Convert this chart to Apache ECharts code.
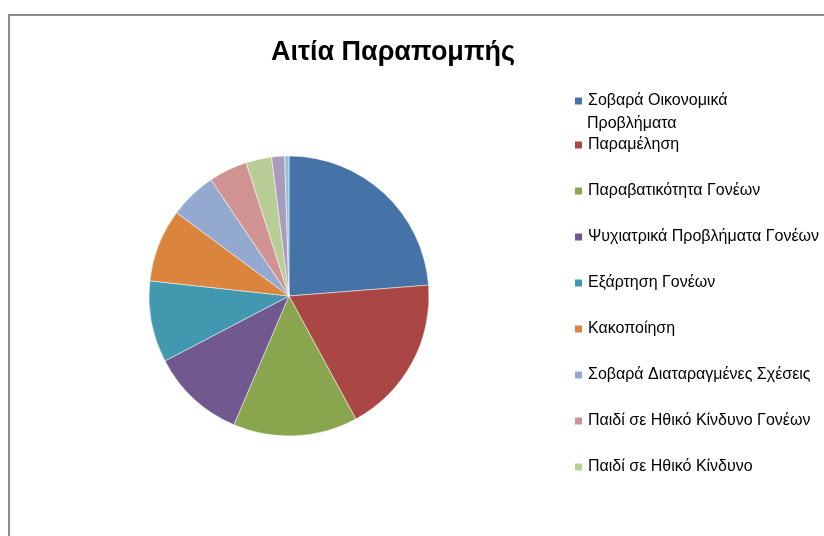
<!DOCTYPE html>
<html>
<head>
<meta charset="utf-8">
<script src="https://cdn.jsdelivr.net/npm/echarts@6/dist/echarts.min.js"></script>
<style>
  html, body { margin: 0; padding: 0; background: #fff; }
  #frame {
    position: absolute; left: 8px; top: 14px; width: 830px; height: 540px;
    border-left: 2px solid #8c8c8c; border-top: 2px solid #8c8c8c;
  }
  #chart { position: absolute; left: 0; top: 0; width: 824px; height: 536px; }
</style>
</head>
<body>
<div id="frame"></div>
<div id="chart"></div>
<script>
// αιτίες παραπομπής (τα δύο τελευταία δεν φαίνονται στο υπόμνημα)
const causes = [
    'Σοβαρά Οικονομικά Προβλήματα',
    'Παραμέληση',
    'Παραβατικότητα Γονέων',
    'Ψυχιατρικά Προβλήματα Γονέων',
    'Εξάρτηση Γονέων',
    'Κακοποίηση',
    'Σοβαρά Διαταραγμένες Σχέσεις',
    'Παιδί σε Ηθικό Κίνδυνο Γονέων',
    'Παιδί σε Ηθικό Κίνδυνο',
    'Σεξουαλική Κακοποίηση',
    'Άλλο'
];
const counts = [48, 37, 29, 22, 19, 17, 11, 9, 6, 3, 1];
const colors = ['#4572A7', '#AA4643', '#89A54E', '#71588F', '#4198AF', '#DB843D',
    '#93A9CF', '#D19392', '#B9CD96', '#A99BBD', '#91C3D5'];

const chart = echarts.init(document.getElementById('chart'));

const legendText = { fontFamily: 'Liberation Sans', fontSize: 16, color: '#000', lineHeight: 18 };

const option = {
    animation: false,
    color: colors,
    title: {
        text: 'Αιτία Παραπομπής',
        left: 393,
        top: 39,
        padding: 0,
        textAlign: 'center',
        textStyle: { fontFamily: 'Liberation Sans', fontSize: 27, fontWeight: 'bold', color: '#000' }
    },
    legend: [
        {
            orient: 'vertical',
            left: 573,
            top: 92,
            padding: 0,
            icon: 'rect',
            itemWidth: 9,
            itemHeight: 9,
            data: [causes[0]],
            formatter: function () { return 'Σοβαρά Οικονομικά'; },
            textStyle: legendText
        },
        {
            orient: 'vertical',
            left: 573,
            top: 136,
            padding: 0,
            icon: 'rect',
            itemWidth: 9,
            itemHeight: 9,
            itemGap: 28,
            data: causes.slice(1, 9),
            textStyle: legendText
        }
    ],
    graphic: [{
        type: 'text',
        left: 587,
        top: 116,
        style: { text: 'Προβλήματα', font: '16px "Liberation Sans"', fill: '#000' }
    }],
    series: [{
        type: 'pie',
        center: [289, 296],
        radius: 140,
        startAngle: 90,
        label: { show: false },
        labelLine: { show: false },
        itemStyle: { borderColor: '#fff', borderWidth: 0.5 },
        data: causes.map(function (name, i) { return { name: name, value: counts[i] }; })
    }]
};

chart.setOption(option);
</script>
</body>
</html>
